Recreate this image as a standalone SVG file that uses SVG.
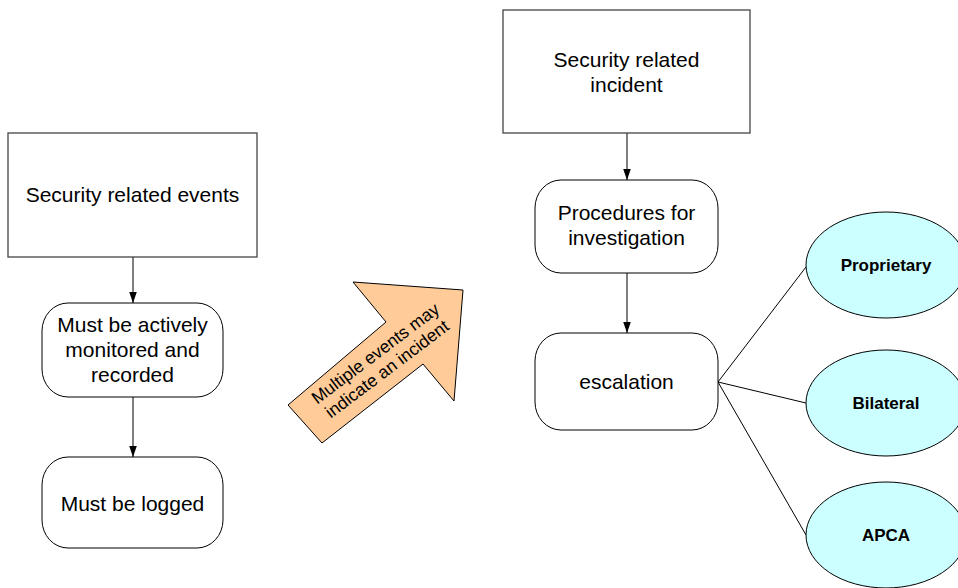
<svg xmlns="http://www.w3.org/2000/svg" width="958" height="588" viewBox="0 0 958 588">
<style>
.box{fill:#fff;stroke:#444;stroke-width:1.3}
.rbox{fill:#fff;stroke:#000;stroke-width:1}
.ell{fill:#CCFFFF;stroke:#000;stroke-width:1}
.t{font-family:"Liberation Sans",Arial,sans-serif;font-size:21px;fill:#000;text-anchor:middle}
.tb{font-family:"Liberation Sans",Arial,sans-serif;font-size:17px;font-weight:bold;fill:#000;text-anchor:middle}
.ta{font-family:"Liberation Sans",Arial,sans-serif;font-size:17.5px;fill:#000;text-anchor:middle}
.c{stroke:#000;stroke-width:1;fill:none}
</style>
<defs>
<marker id="ah" markerWidth="11" markerHeight="16" refX="16" refY="5.5" viewBox="0 0 16 11" orient="auto" markerUnits="userSpaceOnUse">
<path d="M0,0 L16,5.5 L0,11 Z" fill="#000"/>
</marker>
</defs>
<g id="connectors">
<line class="c" x1="133" y1="257" x2="133" y2="303" marker-end="url(#ah)"/>
<line class="c" x1="133" y1="397" x2="133" y2="457" marker-end="url(#ah)"/>
<line class="c" x1="627" y1="133" x2="627" y2="180" marker-end="url(#ah)"/>
<line class="c" x1="627" y1="273" x2="627" y2="333" marker-end="url(#ah)"/>
<line class="c" x1="718" y1="382" x2="806" y2="267"/>
<line class="c" x1="718" y1="382" x2="806" y2="403"/>
<line class="c" x1="718" y1="382" x2="806" y2="535"/>
</g>
<g id="events">
<rect class="box" x="8" y="133" width="249" height="124"/>
<text class="t" x="132.5" y="202">Security related events</text>
</g>
<g id="monitored">
<rect class="rbox" x="42" y="303" width="181" height="94" rx="26" ry="28"/>
<text class="t" x="132.5" y="332">Must be actively</text>
<text class="t" x="132.5" y="357">monitored and</text>
<text class="t" x="132.5" y="382">recorded</text>
</g>
<g id="logged">
<rect class="rbox" x="42" y="457" width="181" height="91" rx="26" ry="28"/>
<text class="t" x="132.5" y="511">Must be logged</text>
</g>
<g id="bigarrow">
<polygon points="288,405 322,443 423,364 454,401 463,290 353,282 386,322" fill="#FFCC99" stroke="#000" stroke-width="1"/>
<g transform="translate(381,361) rotate(-37)">
<text class="ta" x="0" y="-3.5">Multiple events may</text>
<text class="ta" x="0" y="16">indicate an incident</text>
</g>
</g>
<g id="incident">
<rect class="box" x="503" y="10" width="247" height="123"/>
<text class="t" x="626.5" y="67">Security related</text>
<text class="t" x="626.5" y="92">incident</text>
</g>
<g id="procedures">
<rect class="rbox" x="535" y="180" width="183" height="93" rx="26" ry="28"/>
<text class="t" x="626.5" y="220">Procedures for</text>
<text class="t" x="626.5" y="245">investigation</text>
</g>
<g id="escalation">
<rect class="rbox" x="535" y="333" width="183" height="97" rx="26" ry="28"/>
<text class="t" x="626.5" y="389">escalation</text>
</g>
<g id="proprietary">
<ellipse class="ell" cx="886" cy="265" rx="80" ry="53"/>
<text class="tb" x="886" y="271">Proprietary</text>
</g>
<g id="bilateral">
<ellipse class="ell" cx="886" cy="403" rx="80" ry="53"/>
<text class="tb" x="886" y="409">Bilateral</text>
</g>
<g id="apca">
<ellipse class="ell" cx="886" cy="535" rx="80" ry="53"/>
<text class="tb" x="886" y="541">APCA</text>
</g>
</svg>
